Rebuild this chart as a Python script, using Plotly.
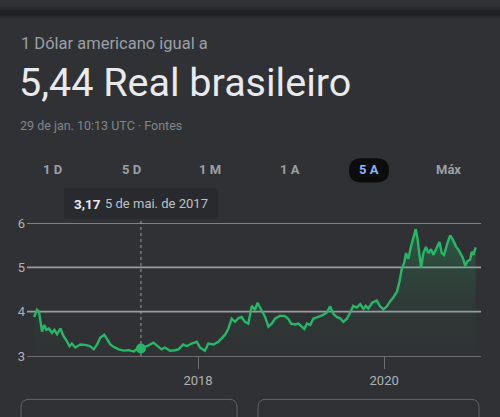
import plotly.graph_objects as go

# ---------------- data ----------------
dates = [
    "2016-03-29", "2016-04-09", "2016-04-17", "2016-04-29", "2016-05-08", "2016-05-16",
    "2016-05-26", "2016-06-07", "2016-06-16", "2016-06-27", "2016-07-10", "2016-07-23",
    "2016-08-05", "2016-08-15", "2016-08-24", "2016-09-06", "2016-09-26", "2016-10-16",
    "2016-11-04", "2016-11-18", "2016-12-01", "2016-12-13", "2016-12-29", "2017-01-09",
    "2017-01-22", "2017-02-06", "2017-02-24", "2017-03-15", "2017-04-04", "2017-04-24",
    "2017-05-13", "2017-05-22", "2017-06-14", "2017-07-10", "2017-07-29", "2017-08-11",
    "2017-08-24", "2017-09-13", "2017-10-03", "2017-10-16", "2017-11-04", "2017-11-18",
    "2017-12-07", "2017-12-27", "2018-01-09", "2018-01-28", "2018-02-10", "2018-03-02",
    "2018-03-22", "2018-04-04", "2018-04-17", "2018-04-30", "2018-05-13", "2018-05-26",
    "2018-06-08", "2018-06-21", "2018-07-04", "2018-07-17", "2018-07-31", "2018-08-13",
    "2018-08-22", "2018-09-08", "2018-09-21", "2018-10-04", "2018-10-17", "2018-10-30",
    "2018-11-19", "2018-12-08", "2018-12-21", "2019-01-01", "2019-01-17", "2019-01-30",
    "2019-02-12", "2019-02-22", "2019-03-04", "2019-03-17", "2019-03-29", "2019-04-12",
    "2019-04-25", "2019-05-08", "2019-05-21", "2019-06-03", "2019-06-16", "2019-06-29",
    "2019-07-12", "2019-07-25", "2019-08-08", "2019-08-20", "2019-09-02", "2019-09-16",
    "2019-09-29", "2019-10-12", "2019-10-21", "2019-10-31", "2019-11-15", "2019-12-03",
    "2019-12-16", "2019-12-29", "2020-01-12", "2020-01-24", "2020-02-06", "2020-02-20",
    "2020-03-01", "2020-03-10", "2020-03-20", "2020-03-27", "2020-04-05", "2020-04-15",
    "2020-04-23", "2020-04-29", "2020-05-04", "2020-05-11", "2020-05-19", "2020-05-25",
    "2020-06-03", "2020-06-13", "2020-06-23", "2020-07-03", "2020-07-12", "2020-07-26",
    "2020-08-05", "2020-08-14", "2020-08-23", "2020-09-05", "2020-09-16", "2020-09-25",
    "2020-10-02", "2020-10-10", "2020-10-19", "2020-10-25", "2020-11-05", "2020-11-14",
    "2020-11-23", "2020-12-03", "2020-12-10", "2020-12-16", "2020-12-25",
]
rates = [
    3.88, 4.04, 4.00, 3.55, 3.70, 3.59,
    3.62, 3.52, 3.59, 3.49, 3.62, 3.44,
    3.33, 3.22, 3.28, 3.19, 3.26, 3.25,
    3.22, 3.15, 3.26, 3.41, 3.48, 3.37,
    3.26, 3.20, 3.15, 3.12, 3.13, 3.10,
    3.19, 3.17, 3.22, 3.30, 3.22, 3.15,
    3.19, 3.12, 3.13, 3.15, 3.26, 3.22,
    3.28, 3.32, 3.19, 3.12, 3.28, 3.26,
    3.32, 3.41, 3.48, 3.62, 3.84, 3.77,
    3.85, 3.88, 3.77, 3.73, 4.13, 4.04,
    4.20, 4.02, 3.88, 3.66, 3.73, 3.84,
    3.91, 3.90, 3.84, 3.73, 3.71, 3.73,
    3.66, 3.61, 3.73, 3.70, 3.84, 3.88,
    3.90, 3.93, 3.98, 4.12, 3.95, 3.88,
    3.85, 3.77, 3.84, 3.97, 4.13, 4.09,
    4.17, 4.06, 4.13, 4.07, 4.20, 4.25,
    4.12, 4.05, 4.12, 4.23, 4.32, 4.45,
    4.67, 4.96, 5.11, 5.32, 5.19, 5.46,
    5.64, 5.79, 5.86, 5.64, 5.32, 4.99,
    5.32, 5.46, 5.32, 5.41, 5.28, 5.46,
    5.57, 5.32, 5.28, 5.54, 5.72, 5.64,
    5.54, 5.46, 5.39, 5.32, 5.21, 5.03,
    5.14, 5.17, 5.35, 5.28, 5.45,
]
hover_date = "2017-05-22"
hover_rate = 3.17
hover_label_value = "3,17"
hover_label_date = "5 de mai. de 2017"

y_ticks = [3, 4, 5, 6]
x_tick_vals = ["2018-01-01", "2020-01-01"]
x_tick_text = ["2018", "2020"]
x_range = ["2016-03-01", "2021-01-15"]

range_buttons = ["1 D", "5 D", "1 M", "1 A", "5 A", "Máx"]
active_button = "5 A"

header_line = "1 Dólar americano igual a"
headline = "5,44 Real brasileiro"
subline = "29 de jan. 10:13 UTC · Fontes"

# ---------------- styling ----------------
W, H = 500, 417
BG = "#303134"
GREEN = "#26b866"
GRAY = "#9aa0a6"
FONT = "Roboto"


def PX(x):
    return x / W


def PY(y):
    return 1 - y / H


def rounded_rect(x0, y0, x1, y1, r):
    """SVG path in paper coordinates for a rounded rectangle given in pixels."""
    rx, ry = r / W, r / H
    a0, b0, a1, b1 = PX(x0), PY(y1), PX(x1), PY(y0)  # b0 bottom, b1 top
    return (
        f"M{a0 + rx},{b0} L{a1 - rx},{b0} Q{a1},{b0} {a1},{b0 + ry} "
        f"L{a1},{b1 - ry} Q{a1},{b1} {a1 - rx},{b1} "
        f"L{a0 + rx},{b1} Q{a0},{b1} {a0},{b1 - ry} "
        f"L{a0},{b0 + ry} Q{a0},{b0} {a0 + rx},{b0} Z"
    )


fig = go.Figure()

fig.add_trace(go.Scatter(
    x=dates, y=rates, mode="lines",
    line=dict(color=GREEN, width=2.4),
    fill="tozeroy",
    fillgradient=dict(
        type="vertical",
        colorscale=[[0, "rgba(38,184,102,0)"], [0.33, "rgba(38,184,102,0.04)"],
                    [0.66, "rgba(38,184,102,0.15)"], [1, "rgba(38,184,102,0.34)"]],
        start=3, stop=6,
    ),
    hoverinfo="skip", showlegend=False,
))
fig.add_trace(go.Scatter(
    x=[hover_date], y=[hover_rate], mode="markers",
    marker=dict(color=GREEN, size=10),
    hoverinfo="skip", showlegend=False,
))

shapes = []
# top bar
shapes.append(dict(type="rect", xref="paper", yref="paper", x0=0, x1=1, y0=PY(3), y1=1,
                   fillcolor="#2a2b2e", line_width=0, layer="below"))
shapes.append(dict(type="rect", xref="paper", yref="paper", x0=0, x1=1, y0=PY(9), y1=PY(3),
                   fillcolor="#1f2023", line_width=0, layer="below"))
shapes.append(dict(type="rect", xref="paper", yref="paper", x0=0, x1=1, y0=PY(11), y1=PY(9),
                   fillcolor="#28292c", line_width=0, layer="below"))

# gridlines (above the baseline)
for v in y_ticks[1:]:
    shapes.append(dict(type="line", xref="paper", yref="y", x0=PX(27), x1=PX(481), y0=v, y1=v,
                       line=dict(color="#9a9da2", width=1.8), layer="below"))

# dashed hover line
shapes.append(dict(type="line", xref="x", yref="paper", x0=hover_date, x1=hover_date,
                   y0=PY(362), y1=PY(220), line=dict(color=GRAY, width=1, dash="dot"),
                   layer="below"))

# tooltip box
shapes.append(dict(type="path", xref="paper", yref="paper",
                   path=rounded_rect(64, 188, 218, 220, 3),
                   fillcolor="#292a2d", line_width=0))

# active range pill
shapes.append(dict(type="path", xref="paper", yref="paper",
                   path=rounded_rect(349, 157, 389, 182, 12.5),
                   fillcolor="#0c0c0d", line_width=0, layer="below"))

# bottom cards
for x0, x1 in [(21, 237), (258, 479)]:
    shapes.append(dict(type="path", xref="paper", yref="paper",
                       path=rounded_rect(x0, 407, x1, 440, 8),
                       fillcolor="rgba(0,0,0,0)", line=dict(color="#5f6368", width=1)))

annotations = []
annotations.append(dict(text=header_line, x=PX(19), y=PY(38), xref="paper", yref="paper",
                        xanchor="left", yanchor="middle", showarrow=False,
                        font=dict(family=FONT, size=16.5, color=GRAY)))
annotations.append(dict(text=headline, x=PX(17), y=PY(78), xref="paper", yref="paper",
                        xanchor="left", yanchor="middle", showarrow=False,
                        font=dict(family=FONT, size=39.5, color="#e8eaed")))
annotations.append(dict(text=subline, x=PX(18), y=PY(123), xref="paper", yref="paper",
                        xanchor="left", yanchor="middle", showarrow=False,
                        font=dict(family=FONT, size=12.5, color="#80868b")))

button_x = [52, 131, 210, 290, 369, 448]
for label, bx in zip(range_buttons, button_x):
    active = label == active_button
    annotations.append(dict(
        text=f"<b>{label}</b>",
        x=PX(bx), y=PY(169), xref="paper", yref="paper",
        xanchor="center", yanchor="middle", showarrow=False,
        font=dict(family=FONT, size=13, color="#8ab4f8" if active else GRAY)))

annotations.append(dict(text=f"<b>{hover_label_value}</b>", x=PX(72), y=PY(204),
                        xref="paper", yref="paper", xanchor="left", yanchor="middle",
                        showarrow=False, font=dict(family=FONT, size=13.5, color="#e8eaed")))
annotations.append(dict(text=hover_label_date, x=PX(103), y=PY(204),
                        xref="paper", yref="paper", xanchor="left", yanchor="middle",
                        showarrow=False, font=dict(family=FONT, size=13, color="#bdc1c6")))

fig.update_layout(
    width=W, height=H,
    margin=dict(l=0, r=0, t=0, b=0),
    paper_bgcolor=BG, plot_bgcolor=BG,
    shapes=shapes, annotations=annotations,
    font=dict(family=FONT, color=GRAY),
    xaxis=dict(
        domain=[PX(27), PX(481)], type="date", range=x_range,
        tickvals=x_tick_vals, ticktext=x_tick_text,
        showgrid=False, zeroline=False,
        showline=True, linecolor="#6a6e73", linewidth=1,
        ticks="outside", ticklen=12, tickcolor="#6a6e73", tickwidth=1,
        tickfont=dict(family=FONT, size=13, color="#aeb2b8"),
        fixedrange=True,
    ),
    yaxis=dict(
        domain=[PY(362), PY(224)], range=[3, 6],
        tickvals=y_ticks, ticktext=[str(v) for v in y_ticks],
        showgrid=False, zeroline=False, showline=False,
        ticks="", ticklabelstandoff=1,
        tickfont=dict(family=FONT, size=13, color="#aeb2b8"),
        fixedrange=True,
    ),
)

fig.write_html("out.html")
